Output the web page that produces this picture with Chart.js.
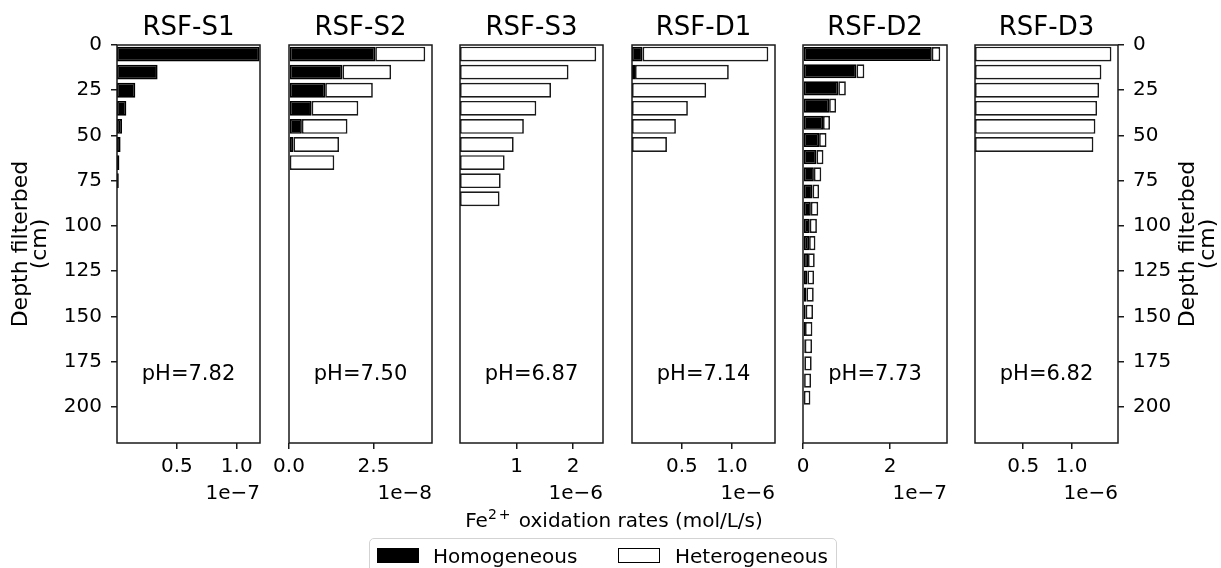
<!DOCTYPE html>
<html>
<head>
<meta charset="utf-8">
<script src="https://cdn.jsdelivr.net/npm/chart.js@4.4.1/dist/chart.umd.min.js"></script>
<style>
  html, body { margin: 0; padding: 0; background: #fff; }
  #wrap { position: relative; width: 1221px; height: 568px; overflow: hidden; font-family: "DejaVu Sans", sans-serif; color: #000; }
  #wrap canvas { position: absolute; left: 0; top: 0; }
  .txt { position: absolute; font-size: 20px; line-height: 24px; white-space: nowrap; }
  #xlabel { left: 414px; width: 400px; top: 508px; text-align: center; }
  #xlabel sup { font-size: 14px; vertical-align: baseline; position: relative; top: -8px; letter-spacing: 2px; }
  #legendBox { position: absolute; left: 369px; top: 538px; width: 466px; height: 44px; border: 1px solid #d3d3d3; border-radius: 5px; }
  .patch { position: absolute; width: 42px; height: 15px; box-sizing: border-box; }
</style>
</head>
<body>
<div id="wrap">
  <canvas id="c0" width="1221" height="568"></canvas>
  <canvas id="c1" width="1221" height="568"></canvas>
  <canvas id="c2" width="1221" height="568"></canvas>
  <canvas id="c3" width="1221" height="568"></canvas>
  <canvas id="c4" width="1221" height="568"></canvas>
  <canvas id="c5" width="1221" height="568"></canvas>
  <div class="txt" id="xlabel">Fe<sup>2+</sup> oxidation rates (mol/L/s)</div>
  <div id="legendBox"></div>
  <div class="patch" style="left:377px; top:548px; background:#000;"></div>
  <div class="txt" style="left:433px; top:544px;">Homogeneous</div>
  <div class="patch" style="left:618px; top:548px; background:#fff; border:1.5px solid #000;"></div>
  <div class="txt" style="left:675px; top:544px;">Heterogeneous</div>
</div>
<script>
// ===================================
// DATA
// ===================================
const panelNames = ["RSF-S1", "RSF-S2", "RSF-S3", "RSF-D1", "RSF-D2", "RSF-D3"];
const phValues = [7.82, 7.50, 6.87, 7.14, 7.73, 6.82];

// depth of each layer (cm) and Fe2+ oxidation rates (mol/L/s)
const depthS1 = [5, 15, 25, 35, 45, 55, 65, 75];
const homS1 = [1.19e-7, 0.339e-7, 0.153e-7, 0.078e-7, 0.042e-7, 0.03e-7, 0.02e-7, 0.015e-7];
const hetS1 = [0, 0, 0, 0, 0, 0, 0, 0];

const depthS2 = [5, 15, 25, 35, 45, 55, 65, 75, 85, 95];
const homS2 = [2.55e-8, 1.58e-8, 1.07e-8, 0.67e-8, 0.38e-8, 0.13e-8, 0, 0, 0, 0];
const hetS2 = [1.48e-8, 1.44e-8, 1.41e-8, 1.38e-8, 1.35e-8, 1.35e-8, 1.34e-8, 0.02e-8, 0.02e-8, 0.02e-8];

const depthS3 = [5, 15, 25, 35, 45, 55, 65, 75, 85];
const homS3 = [0, 0, 0, 0, 0, 0, 0, 0, 0];
const hetS3 = [2.41e-6, 1.92e-6, 1.61e-6, 1.35e-6, 1.13e-6, 0.95e-6, 0.79e-6, 0.72e-6, 0.70e-6];

const depthD1 = [5, 15, 25, 35, 45, 55];
const homD1 = [0.106e-6, 0.03e-6, 0, 0, 0, 0];
const hetD1 = [1.26e-6, 0.94e-6, 0.743e-6, 0.56e-6, 0.44e-6, 0.35e-6];

const depthD2 = [5, 14.5, 24, 33.5, 43, 52.5, 62, 71.5, 81, 90.5, 100, 109.5, 119, 128.5, 138, 147.5, 157, 166.5, 176, 185.5, 195];
const homD2 = [2.96e-7, 1.23e-7, 0.81e-7, 0.60e-7, 0.46e-7, 0.37e-7, 0.31e-7, 0.25e-7, 0.22e-7, 0.18e-7, 0.155e-7,
               0.14e-7, 0.115e-7, 0.10e-7, 0.078e-7, 0.062e-7, 0.046e-7, 0.04e-7, 0.03e-7, 0.025e-7, 0.02e-7];
const hetD2 = [0.195e-7, 0.18e-7, 0.175e-7, 0.16e-7, 0.16e-7, 0.17e-7, 0.16e-7, 0.17e-7, 0.15e-7, 0.17e-7, 0.165e-7,
               0.146e-7, 0.155e-7, 0.154e-7, 0.169e-7, 0.168e-7, 0.17e-7, 0.168e-7, 0.17e-7, 0.16e-7, 0.15e-7];

const depthD3 = [5, 15, 25, 35, 45, 55];
const homD3 = [0, 0, 0, 0, 0, 0];
const hetD3 = [1.414e-6, 1.31e-6, 1.286e-6, 1.265e-6, 1.248e-6, 1.227e-6];

const depths = [depthS1, depthS2, depthS3, depthD1, depthD2, depthD3];
const homogeneous = [homS1, homS2, homS3, homD1, homD2, homD3];
const heterogeneous = [hetS1, hetS2, hetS3, hetD1, hetD2, hetD3];

// axes
const depthTicks = [0, 25, 50, 75, 100, 125, 150, 175, 200];
const depthMax = 220;
const phDepth = 182;
const xMax = [1.194e-7, 4.23e-8, 2.53e-6, 1.433e-6, 3.31e-7, 1.482e-6];
const xTicks = [[0.5e-7, 1.0e-7], [0, 2.5e-8], [1e-6, 2e-6], [0.5e-6, 1.0e-6], [0, 2e-7], [0.5e-6, 1.0e-6]];
const xTickLabels = [["0.5", "1.0"], ["0.0", "2.5"], ["1", "2"], ["0.5", "1.0"], ["0", "2"], ["0.5", "1.0"]];
const offsetLabels = ["1e\u22127", "1e\u22128", "1e\u22126", "1e\u22126", "1e\u22127", "1e\u22126"];
const depthLabel = ["Depth filterbed", "(cm)"];

// ===================================
// LAYOUT
// ===================================
const W = 1221;
const panelLeft = [117, 289, 460, 632, 803, 975];
const panelRight = [260, 432, 603, 775, 947, 1118];
const ink = "#1a1a1a";
const FONT = '"DejaVu Sans", sans-serif';
const tickFont = { family: FONT, size: 20 };

Chart.defaults.font.family = FONT;

// frame, title, pH text and right-hand depth label
const panelDecor = {
  id: "panelDecor",
  afterDatasetsDraw(chart, args, opts) {
    const { ctx, chartArea: a, scales } = chart;
    const cx = (a.left + a.right) / 2;
    ctx.save();
    ctx.strokeStyle = ink;
    ctx.lineWidth = 1.5;
    ctx.strokeRect(a.left, a.top, a.right - a.left, a.bottom - a.top);

    ctx.fillStyle = "#000";
    ctx.textAlign = "center";
    ctx.textBaseline = "alphabetic";
    ctx.font = "26px " + FONT;
    ctx.fillText(opts.title, cx, 34.5);

    ctx.font = "21px " + FONT;
    ctx.textBaseline = "middle";
    ctx.fillText("pH=" + opts.ph.toFixed(2), cx, scales.y.getPixelForValue(phDepth));

    // right side label, same reading direction as the left one
    if (opts.rightLabel) {
      ctx.font = "22px " + FONT;
      const cy = (a.top + a.bottom) / 2;
      [1188, 1208].forEach((x, k) => {
        ctx.save();
        ctx.translate(x, cy);
        ctx.rotate(-Math.PI / 2);
        ctx.fillText(depthLabel[k], 0, 0);
        ctx.restore();
      });
    }
    ctx.restore();
  }
};

// ===================================
// CHARTS
// ===================================
function renderPanel(i) {
  const first = i === 0;
  const last = i === 5;
  const pts = vals => vals.map((v, k) => ({ x: v, y: depths[i][k] }));
  const barStyle = { borderWidth: 1.7, borderSkipped: false, barPercentage: 0.82, categoryPercentage: 1 };

  new Chart(document.getElementById("c" + i), {
    type: "bar",
    data: {
      datasets: [
        { label: "Homogeneous", data: pts(homogeneous[i]), backgroundColor: "#000", borderColor: "#000", ...barStyle },
        { label: "Heterogeneous", data: pts(heterogeneous[i]), backgroundColor: "#fff", borderColor: ink, ...barStyle }
      ]
    },
    options: {
      indexAxis: "y",
      responsive: false,
      animation: false,
      events: [],
      layout: {
        padding: {
          left: first ? 0 : panelLeft[i],
          right: last ? 0 : W - panelRight[i],
          top: 45,
          bottom: 62
        }
      },
      scales: {
        x: {
          type: "linear",
          stacked: true,
          min: 0,
          max: xMax[i],
          afterBuildTicks: s => { s.ticks = xTicks[i].map(v => ({ value: v })); },
          afterFit: s => { s.height = 63; },
          grid: { drawOnChartArea: false, drawTicks: true, tickLength: 6, color: ink, lineWidth: 1.5 },
          border: { display: false },
          ticks: {
            padding: 6, color: "#000", font: tickFont, maxRotation: 0, autoSkip: false,
            callback: (v, k) => xTickLabels[i][k]
          },
          title: { display: true, text: offsetLabels[i], align: "end", color: "#000", font: tickFont, padding: 0 }
        },
        y: {
          type: "linear",
          stacked: true,
          reverse: true,
          offset: false,
          min: 0,
          max: depthMax,
          display: first || last,
          position: last ? "right" : "left",
          afterBuildTicks: s => { s.ticks = depthTicks.map(v => ({ value: v })); },
          afterFit: s => {
            if (first) s.width = 117;
            if (last) s.width = 103;
          },
          grid: { offset: false, drawOnChartArea: false, drawTicks: true, tickLength: 6, color: ink, lineWidth: 1.5 },
          border: { display: false },
          ticks: { padding: 9, color: "#000", font: tickFont, autoSkip: false },
          title: {
            display: first,
            text: depthLabel,
            color: "#000",
            font: { family: FONT, size: 22, lineHeight: 0.9 },
            padding: { top: 11, bottom: 0 }
          }
        }
      },
      plugins: {
        legend: { display: false },
        tooltip: { enabled: false },
        panelDecor: { title: panelNames[i], ph: phValues[i], rightLabel: last }
      }
    },
    plugins: [panelDecor]
  });
}

for (let i = 0; i < 6; i++) renderPanel(i);
</script>
</body>
</html>
